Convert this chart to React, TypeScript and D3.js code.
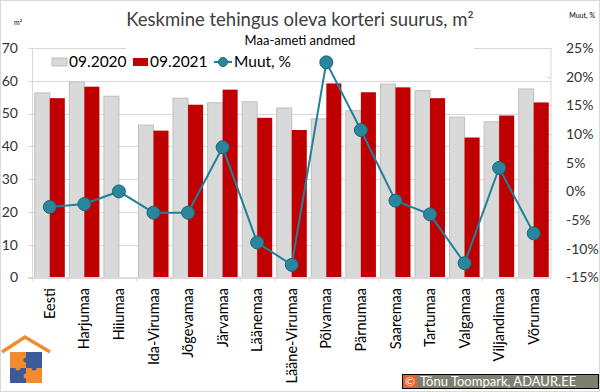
import React from 'react'
import * as d3 from 'd3'

// maakonnad
const regions = ['Eesti', 'Harjumaa', 'Hiiumaa', 'Ida-Virumaa', 'Jõgevamaa', 'Järvamaa', 'Läänemaa', 'Lääne-Virumaa', 'Põlvamaa', 'Pärnumaa', 'Saaremaa', 'Tartumaa', 'Valgamaa', 'Viljandimaa', 'Võrumaa']
const size2020 = [56.3, 59.6, 55.3, 46.5, 54.7, 53.3, 53.6, 51.7, 48.4, 50.9, 59.0, 57.0, 48.9, 47.5, 57.5]
const size2021 = [54.7, 58.2, null, 44.8, 52.7, 57.3, 48.7, 45.0, 59.2, 56.5, 58.0, 54.7, 42.7, 49.4, 53.4]
const change = [-2.7, -2.2, 0, -3.7, -3.7, 7.7, -8.9, -12.8, 22.5, 10.7, -1.6, -4.0, -12.5, 4.1, -7.3]
const leftTicks = [0, 10, 20, 30, 40, 50, 60, 70]
const rightTicks = [-15, -10, -5, 0, 5, 10, 15, 20, 25]

const W = 600, H = 392
const font = 'Lato, "Liberation Sans", sans-serif'
const gray = '#D9D9D9', red = '#C00000', teal = '#1F8299'

const App = () => {
    const left = 32.5, right = 551, top = 48, bottom = 277.5

    const x = d3.scaleBand().domain(regions).range([left, right]).paddingInner(0.13).paddingOuter(0.065)
    const x1 = d3.scaleBand().domain(['a', 'b']).range([0, x.bandwidth()])
    const y = d3.scaleLinear().domain([0, 70]).range([bottom, top])
    const y2 = d3.scaleLinear().domain([-15, 25]).range([bottom, top])
    const cx = (r) => x(r) + x.bandwidth() / 2

    const line = d3.line().x((d, i) => cx(regions[i])).y(d => y2(d))
    const step = x.step()

    return (
        <svg width={W} height={H} style={{ position: 'absolute', left: 0, top: 0, background: '#fff' }} fontFamily={font}>
            <rect x={0.5} y={0.5} width={W - 1} height={H - 1} fill="#fff" stroke="#D9D9D9" />

            {/* grid */}
            {leftTicks.map(t => (
                <line key={t} x1={28} x2={right} y1={Math.round(y(t)) + 0.5} y2={Math.round(y(t)) + 0.5} stroke="#D9D9D9" />
            ))}
            <rect x={126} y={28} width={348} height={26} fill="#fff" />
            <line x1={left} x2={left} y1={top} y2={bottom} stroke="#D9D9D9" />
            <line x1={right} x2={right} y1={top} y2={bottom} stroke="#D9D9D9" />
            {rightTicks.map(t => (
                <line key={t} x1={right - 4} x2={right} y1={Math.round(y2(t)) + 0.5} y2={Math.round(y2(t)) + 0.5} stroke="#D9D9D9" />
            ))}
            {regions.map((r, i) => (
                <line key={r} x1={left + step * i + 0.5} x2={left + step * i + 0.5} y1={bottom} y2={bottom + 4} stroke="#D9D9D9" />
            ))}

            {/* tulbad */}
            {regions.map((r, i) => (
                <g key={r}>
                    <rect x={x(r) + x1('a')} y={y(size2020[i])} width={x1.bandwidth()} height={bottom - y(size2020[i])}
                        fill={gray} stroke="#BFBFBF" strokeWidth={1} />
                    {size2021[i] != null &&
                        <rect x={x(r) + x1('b')} y={y(size2021[i])} width={x1.bandwidth()} height={bottom - y(size2021[i])} fill={red} />}
                </g>
            ))}
            <line x1={28} x2={right} y1={bottom} y2={bottom} stroke="#D9D9D9" />

            {/* muut */}
            <path d={line(change)} fill="none" stroke={teal} strokeWidth={2} />
            {change.map((c, i) => (
                <circle key={i} cx={cx(regions[i])} cy={y2(c)} r={6.5} fill="#2A869C" stroke="#1C6677" strokeWidth={1} />
            ))}

            {/* teljed */}
            {leftTicks.map(t => (
                <text key={t} x={18} y={y(t)} dy="0.35em" textAnchor="end" fontSize={14} fill="#333">{t}</text>
            ))}
            {rightTicks.map(t => (
                <text key={t} x={566} y={y2(t)} dy="0.35em" fontSize={14} fill="#333">{t}%</text>
            ))}
            {regions.map(r => (
                <text key={r} transform={`translate(${cx(r)},288) rotate(-90)`} dy="0.35em" textAnchor="end" fontSize={14.5} fill="#000">{r}</text>
            ))}

            {/* pealkiri */}
            <text x={300} y={26} textAnchor="middle" fontSize={18.5} fill="#404040">Keskmine tehingus oleva korteri suurus, m²</text>
            <text x={300} y={45} textAnchor="middle" fontSize={13} fill="#000">Maa-ameti andmed</text>
            <text x={14} y={25} fontSize={7} fill="#000">m²</text>
            <text x={595} y={18} textAnchor="end" fontSize={7} fill="#000">Muut, %</text>

            {/* legend */}
            <rect x={52} y={58} width={15} height={8} fill={gray} stroke="#BFBFBF" />
            <text x={69} y={67} fontSize={15.5} fill="#000">09.2020</text>
            <rect x={133} y={58} width={15} height={8} fill={red} />
            <text x={150} y={67} fontSize={15.5} fill="#000">09.2021</text>
            <line x1={214} x2={232} y1={62} y2={62} stroke={teal} strokeWidth={2} />
            <circle cx={223} cy={62} r={4.5} fill="#2A869C" stroke="#1C6677" />
            <text x={234} y={67} fontSize={15.5} fill="#000">Muut, %</text>

            {/* logo */}
            <g>
                <rect x={10} y={352} width={16} height={16} fill="#F28A2E" />
                <rect x={26} y={352} width={16} height={16} fill="#3A5A9A" />
                <rect x={10} y={368} width={16} height={15} fill="#3A5A9A" />
                <rect x={26} y={368} width={16} height={15} fill="#F28A2E" />
                <circle cx={26} cy={360} r={2.5} fill="#3A5A9A" />
                <circle cx={18} cy={368} r={2.5} fill="#F28A2E" />
                <circle cx={34} cy={368} r={2.5} fill="#3A5A9A" />
                <circle cx={26} cy={376} r={2.5} fill="#F28A2E" />
                <polyline points="2,352 25,337 50,352" fill="none" stroke="#F28A2E" strokeWidth={3.5} />
            </g>

            {/* copyright */}
            <rect x={402.5} y={374.5} width={196} height={14} fill="#7F7F70" stroke="#000" />
            <rect x={403} y={375} width={14} height={13} fill="#E8622A" />
            <text x={410} y={386} textAnchor="middle" fontSize={12} fill="#fff">©</text>
            <text x={420} y={386} fontSize={13} fill="#fff">Tõnu Toompark, ADAUR.EE</text>
        </svg>
    )
}

export default App
